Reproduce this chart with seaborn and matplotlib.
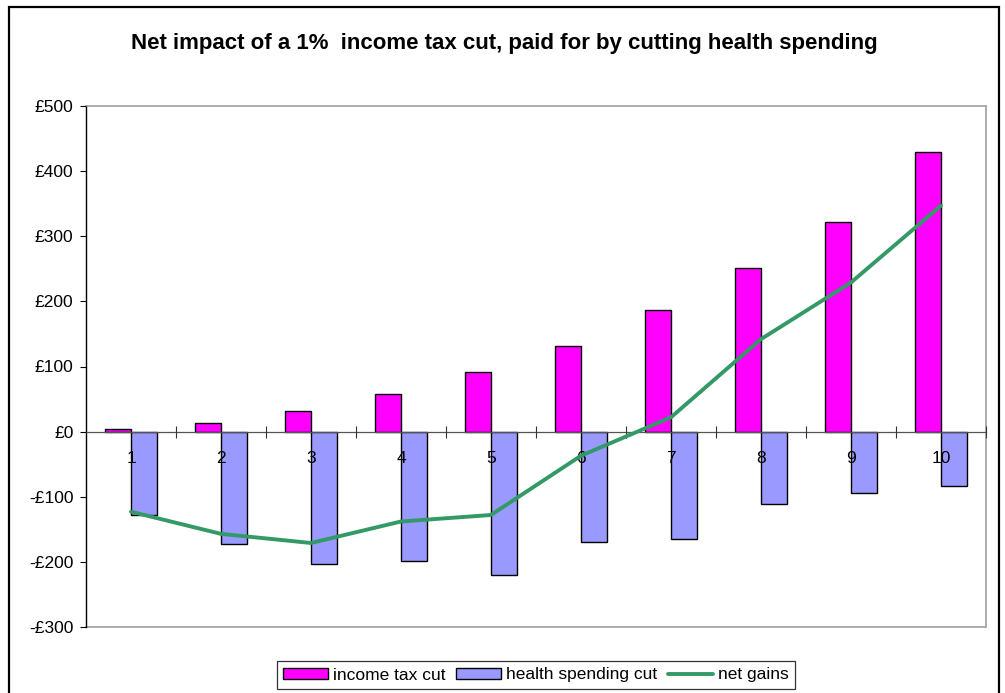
import matplotlib.pyplot as plt
import matplotlib.ticker as mticker
import pandas as pd
import seaborn as sns
from matplotlib.lines import Line2D
from matplotlib.patches import Patch, Rectangle

deciles = ["1", "2", "3", "4", "5", "6", "7", "8", "9", "10"]
income_tax_cut = [4, 13, 32, 58, 92, 131, 186, 252, 322, 429]
health_spending_cut = [-128, -172, -203, -199, -220, -170, -165, -111, -95, -84]
net_gains = [-123, -157, -171, -138, -128, -37, 22, 142, 229, 347]

y_ticks = [-300, -200, -100, 0, 100, 200, 300, 400, 500]
y_tick_labels = ["-£300", "-£200", "-£100", "£0", "£100", "£200", "£300", "£400", "£500"]

series_names = ["income tax cut", "health spending cut", "net gains"]
bar_colors = ["#FF00FF", "#9999FF"]
line_color = "#339966"


def make_plot(path):
    sns.set_style("white")
    plt.rcParams['font.family'] = ['Liberation Sans', 'DejaVu Sans']
    plt.rcParams['text.color'] = 'black'
    plt.rcParams['xtick.color'] = 'black'
    plt.rcParams['ytick.color'] = 'black'
    plt.rcParams['xtick.labelcolor'] = 'black'
    plt.rcParams['ytick.labelcolor'] = 'black'

    bars = pd.DataFrame({
        "decile": deciles * 2,
        "value": income_tax_cut + health_spending_cut,
        "series": [series_names[0]] * len(deciles) + [series_names[1]] * len(deciles),
    })
    line = pd.DataFrame({"pos": range(len(deciles)), "value": net_gains})

    fig = plt.figure(figsize=(10.05, 6.93), dpi=100)
    ax = fig.add_axes([86 / 1005, 1 - 627 / 693, 900 / 1005, 521 / 693])

    sns.barplot(data=bars, x="decile", y="value", hue="series", order=deciles,
                hue_order=series_names[:2], palette=bar_colors, width=0.574,
                edgecolor="black", linewidth=1.0, saturation=1, legend=False, ax=ax)
    sns.lineplot(data=line, x="pos", y="value", color=line_color, linewidth=2.8,
                 legend=False, ax=ax)
    ax.lines[-1].set_zorder(3)

    ax.set_xlim(-0.5, len(deciles) - 0.5)
    ax.set_ylim(-300, 500)
    ax.set_xlabel("")
    ax.set_ylabel("")
    ax.set_axisbelow(False)  # category labels sit on top of the bars

    # y axis with pound labels
    ax.set_yticks(y_ticks)
    ax.set_yticklabels(y_tick_labels)
    ax.tick_params(axis="y", direction="out", length=4, width=0.8, pad=5,
                   labelsize=12.5, left=True, color="black", labelcolor="black")

    # x axis sits on zero, ticks between categories
    ax.spines["bottom"].set_position(("data", 0))
    ax.spines["bottom"].set_color("#555555")
    ax.spines["bottom"].set_linewidth(0.9)
    ax.set_xticks(range(len(deciles)))
    ax.set_xticklabels(deciles)
    ax.xaxis.set_minor_locator(mticker.FixedLocator([i + 0.5 for i in range(len(deciles))]))
    ax.tick_params(axis="x", which="major", length=0, pad=14, labelsize=12.5,
                   labelcolor="black")
    ax.tick_params(axis="x", which="minor", direction="inout", length=8, width=0.8,
                   bottom=True, color="#333333")

    ax.spines["left"].set_color("black")
    ax.spines["left"].set_linewidth(1.0)
    for side in ["top", "right"]:
        ax.spines[side].set_color("#A0A0A0")
        ax.spines[side].set_linewidth(1.2)
    ax.plot([0, 1], [0, 0], transform=ax.transAxes, color="#A0A0A0", linewidth=1.2,
            clip_on=False)

    fig.text(0.502, 1 - 44 / 693, "Net impact of a 1%  income tax cut, paid for by cutting health spending",
             ha="center", va="center", fontsize=16, fontweight="bold", color="black")

    handles = [Patch(facecolor=bar_colors[0], edgecolor="black", linewidth=1.0),
               Patch(facecolor=bar_colors[1], edgecolor="black", linewidth=1.0),
               Line2D([], [], color=line_color, linewidth=2.8)]
    leg = fig.legend(handles, series_names, loc="center", bbox_to_anchor=(536 / 1005, 1 - 675 / 693),
                     ncol=3, fontsize=12.5, frameon=True, fancybox=False, handlelength=2.6,
                     handleheight=0.55, handletextpad=0.3, columnspacing=0.6, borderpad=0.35,
                     labelcolor="black")
    leg.get_frame().set_edgecolor("black")
    leg.get_frame().set_linewidth(0.9)

    fig.patches.append(Rectangle((9 / 1005, -0.05), 990 / 1005, 1.05 - 7 / 693,
                                 transform=fig.transFigure, fill=False,
                                 edgecolor="black", linewidth=1.6))

    print('Saving: {}'.format(path))
    plt.savefig(path, dpi=100)
    plt.close()


make_plot("out.png")
